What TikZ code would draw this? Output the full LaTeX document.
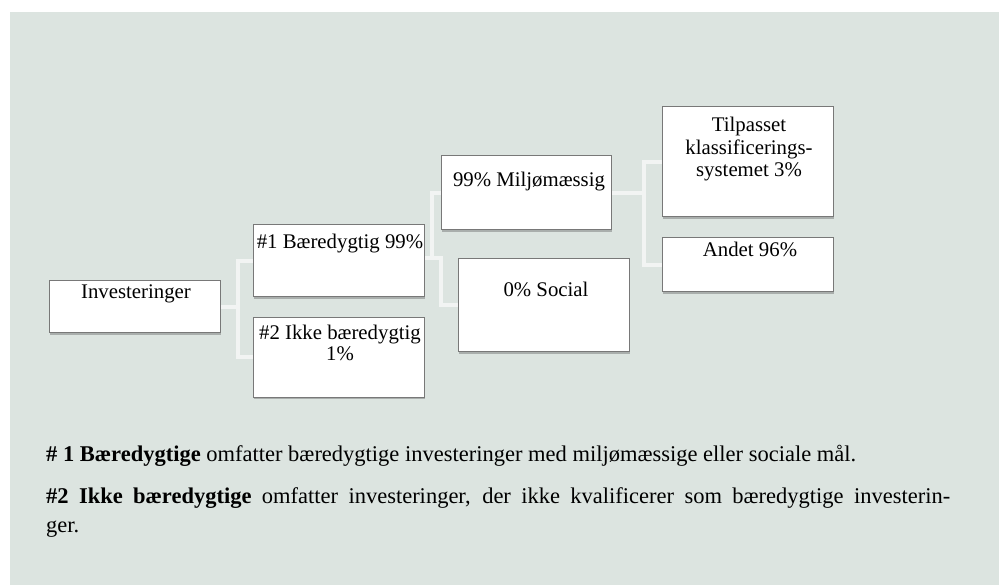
\documentclass[tikz,border=0pt]{standalone}
\usepackage{fontspec}
\setmainfont{Liberation Serif}
\usetikzlibrary{shadows}
\definecolor{bgc}{RGB}{220,228,224}
\definecolor{connc}{RGB}{242,244,243}
\definecolor{boxline}{RGB}{120,120,120}
\pgfdeclarelayer{backdrop}
\pgfdeclarelayer{background}
\pgfsetlayers{backdrop,background,main}
\tikzset{
  boxnode/.style={draw=boxline, line width=1pt, fill=white, inner sep=0pt,
    drop shadow={shadow xshift=0.8pt, shadow yshift=-1.6pt, opacity=0.35, fill=black!70}},
  conline/.style={draw=connc, line width=4pt},
  lbl/.style={anchor=base, inner sep=0pt, align=center, font=\fontsize{20.8}{21.5}\selectfont},
  para/.style={anchor=base west, inner sep=0pt, align=left, font=\fontsize{22.5}{29}\selectfont},
}
\begin{document}
\begin{tikzpicture}[x=1pt, y=-1pt]
\useasboundingbox (0,0) rectangle (999,585);
\begin{pgfonlayer}{backdrop}
  \fill[bgc] (10,12) rectangle (999,585);
\end{pgfonlayer}

% boxes
\node[boxnode, minimum width=171pt, minimum height=52pt] (inv) at (134.5,307) {};
\node[boxnode, minimum width=171pt, minimum height=72pt] (b1) at (338.5,261) {};
\node[boxnode, minimum width=171pt, minimum height=79pt] (b2) at (338.5,357.5) {};
\node[boxnode, minimum width=170pt, minimum height=74pt] (mil) at (526,193) {};
\node[boxnode, minimum width=171pt, minimum height=93pt] (soc) at (543.5,305.5) {};
\node[boxnode, minimum width=171pt, minimum height=110pt] (til) at (747.5,162) {};
\node[boxnode, minimum width=171pt, minimum height=54pt] (and) at (747.5,265) {};

% box texts (base anchor = baseline of the last line)
\node[lbl] (tinv) at (136,299) {Investeringer};
\node[lbl] (tb1) at (340,249) {\#1 Bæredygtig 99\%};
\node[lbl] (tb2) at (340,361) {\#2 Ikke bæredygtig\\1\%};
\node[lbl] (tmil) at (529,187) {99\% Miljømæssig};
\node[lbl] (tsoc) at (546,297) {0\% Social};
\node[lbl, font=\fontsize{20.8}{22.5}\selectfont] (ttil) at (749,177) {Tilpasset\\klassificerings-\\systemet 3\%};
\node[lbl] (tand) at (750,257) {Andet 96\%};

% elbow x positions and connector start
\coordinate (e1) at (238,0);
\coordinate (e2) at (432,0);
\coordinate (e3) at (441,0);
\coordinate (e4) at (644,0);
\coordinate (b1o) at ([yshift=3pt]b1.east);

\begin{pgfonlayer}{background}
  \draw[conline] (inv.east) -- (e1 |- inv.east) |- (b1.west);
  \draw[conline] (inv.east) -- (e1 |- inv.east) |- (b2.west);
  \draw[conline] (b1o) -- (e2 |- b1o) |- (mil.west);
  \draw[conline] (b1o) -- (e3 |- b1o) |- (soc.west);
  \draw[conline] (mil.east) -- (e4 |- mil.east) |- (til.west);
  \draw[conline] (mil.east) -- (e4 |- mil.east) |- (and.west);
\end{pgfonlayer}

% explanation text
\node[para] (p1) at (46,461) {\textbf{\# 1 Bæredygtige} omfatter bæredygtige investeringer med miljømæssige eller sociale mål.};
\node[para] (p2) at (46,532) {\makebox[904pt][s]{\textbf{\#2 Ikke bæredygtige} omfatter investeringer, der ikke kvalificerer som bæredygtige investerin-}\\ger.};
\end{tikzpicture}
\end{document}
